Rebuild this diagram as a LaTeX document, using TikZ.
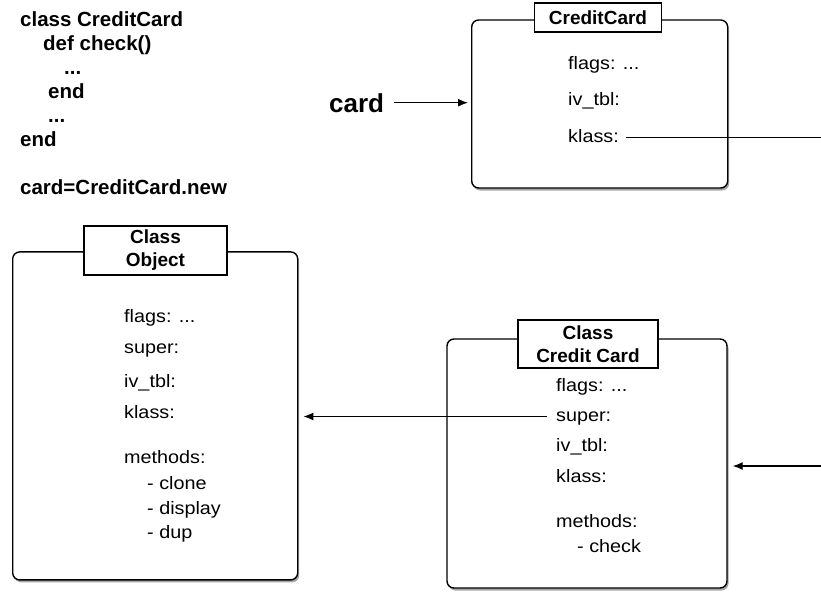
\documentclass[tikz,border=0pt]{standalone}
\usepackage{fontspec}
\setmainfont{Liberation Sans}
\newfontfamily\fieldfont[FakeStretch=1.1]{Liberation Sans}
\usetikzlibrary{arrows.meta,shadows}
\begin{document}
\begin{tikzpicture}[x=1pt,y=-1pt,
  objbox/.style={draw, line width=1.4pt, rounded corners=7pt, fill=white,
     drop shadow={shadow xshift=1.5pt, shadow yshift=-2.5pt, opacity=0.35, fill=black}},
  titlebox/.style={draw, line width=1.2pt, fill=white, inner sep=0pt, align=center,
     font=\bfseries\fontsize{19}{23}\selectfont},
  code/.style={anchor=base west, inner sep=0pt, font=\bfseries\fontsize{20.5}{24}\selectfont},
  field/.style={anchor=base west, inner sep=0pt, text height=13pt, text depth=4pt,
     font=\fieldfont\fontsize{18}{22}\selectfont},
  conn/.style={line width=1.3pt},
  arr/.style={conn, -{Latex[length=10pt,width=8pt]}}
]
\useasboundingbox (0,0) rectangle (821,592);

% code
\node[code] (c1) at (20,26) {class CreditCard};
\node[code] (c2) at (43,50) {def check()};
\node[code] (c3) at (64,74) {...};
\node[code] (c4) at (48,98) {end};
\node[code] (c5) at (48,122) {...};
\node[code] (c6) at (20,146) {end};
\node[code] (c7) at (20,194) {card=CreditCard.new};

% CreditCard instance
\node[objbox, minimum width=256pt, minimum height=168pt] (cc) at (599.7,104) {};
\node[titlebox, minimum width=127pt, minimum height=29pt] (cct) at (598,17.5) {CreditCard};
\node[field] (ccflags) at (568,69) {flags: ...};
\node[field] (cciv) at (568,105) {iv\_tbl:};
\node[field] (ccklass) at (568,142) {klass:};

\node[anchor=base west, inner sep=0pt, font=\bfseries\fontsize{26}{30}\selectfont] (card) at (329,112) {card};

% Class Object
\node[objbox, minimum width=285pt, minimum height=328pt] (obj) at (155.2,415.9) {};
\node[titlebox, minimum width=143pt, minimum height=49pt] (objt) at (155.5,250.5) {Class\\Object};
\node[field] (oflags) at (124,322) {flags: ...};
\node[field] (osuper) at (124,353) {super:};
\node[field] (oiv) at (124,387) {iv\_tbl:};
\node[field] (oklass) at (124,418) {klass:};
\node[field] (ometh) at (124,463) {methods:};
\node[field] (oclone) at (147,489) {- clone};
\node[field] (odisp) at (147,514) {- display};
\node[field] (odup) at (147,538) {- dup};

% Class Credit Card
\node[objbox, minimum width=280pt, minimum height=249pt] (ccc) at (587,463.5) {};
\node[titlebox, minimum width=140pt, minimum height=48pt] (ccct) at (588,344) {Class\\Credit Card};
\node[field] (cflags) at (556,391) {flags: ...};
\node[field] (csuper) at (556,421) {super:};
\node[field] (civ) at (556,451) {iv\_tbl:};
\node[field] (cklass) at (556,482) {klass:};
\node[field] (cmeth) at (556,527) {methods:};
\node[field] (ccheck) at (577,552) {- check};

% connectors
\coordinate (kout) at (821,0);
\coordinate (rin) at (821,466);
\coordinate (cardout) at ([xshift=10pt]card.east);
\coordinate (superout) at ([xshift=-9pt]csuper.west);
\coordinate (klassout) at ([xshift=7pt]ccklass.east);
\draw[arr, shorten >=3pt] (cardout) -- (cc.west |- cardout);
\draw[conn] (klassout) -- (klassout -| kout);
\draw[arr, shorten >=5pt] (superout) -- (superout -| obj.east);
\draw[arr, shorten >=5pt] (rin) -- (rin -| ccc.east);
\end{tikzpicture}
\end{document}
